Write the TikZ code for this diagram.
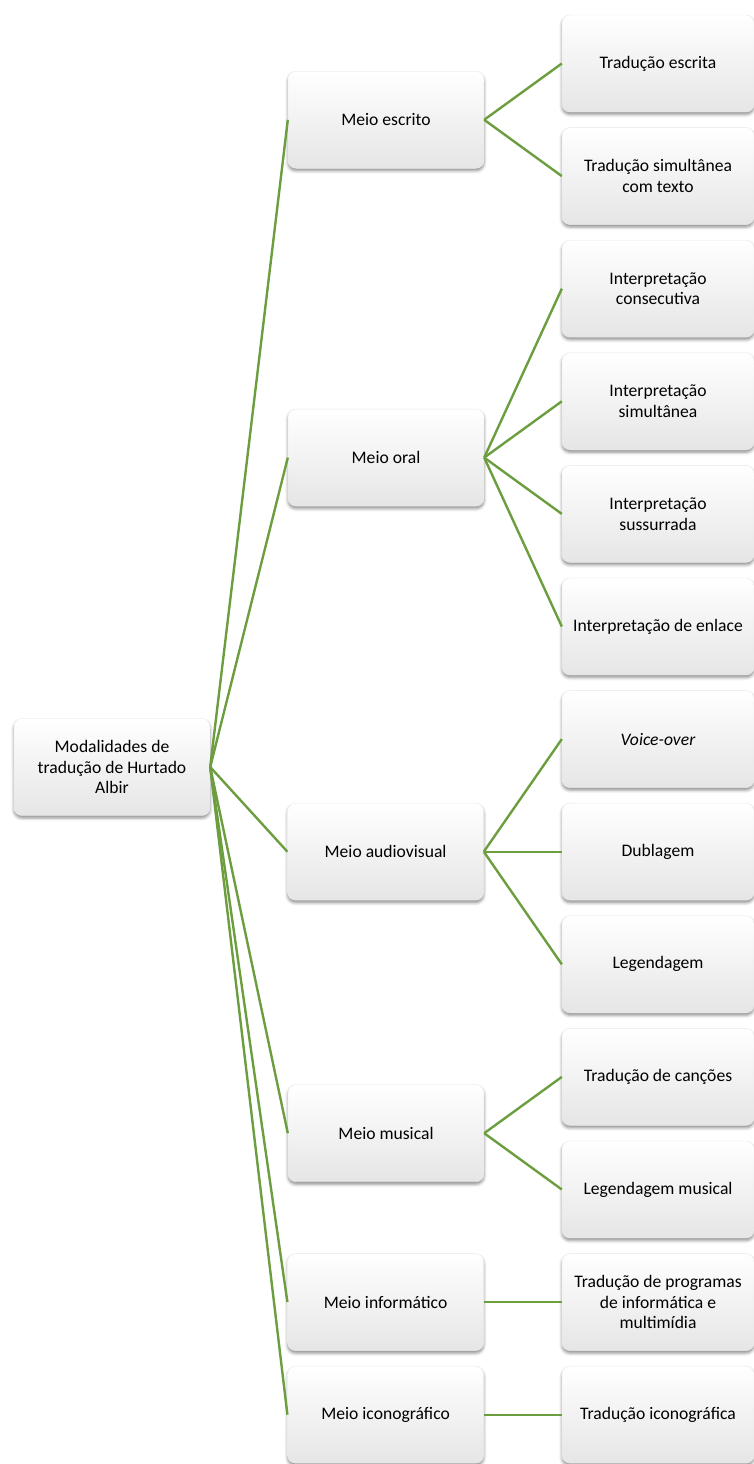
\documentclass[tikz,border=0pt]{standalone}
\usepackage{fontspec}
\setmainfont{Carlito}
\usetikzlibrary{positioning,shadows.blur}
\definecolor{linkgreen}{RGB}{108,158,64}

\begin{document}
\begin{tikzpicture}[x=1pt,y=-1pt,
  box/.style={rectangle, rounded corners=8pt, minimum width=196pt, minimum height=97pt,
    align=center, inner sep=2pt, top color=white, bottom color=black!10, draw=black!8,
    blur shadow={shadow xshift=0pt, shadow yshift=-2.5pt, shadow blur radius=3pt, shadow opacity=45}},
  leaf/.style={box, minimum width=192pt},
  link/.style={draw=linkgreen, line width=2.4pt}]
        \tikzstyle{every node}=[font=\fontsize{17.6}{20.7}\selectfont]
        \useasboundingbox (0,0) rectangle (754,1464);

          % root
          \node[box] (root) at (112,767) {Modalidades de\\tradução de Hurtado\\Albir};

          % third column, stacked top to bottom
          \node[leaf] (t1) at (658,63.5) {Tradução escrita};
          \node[leaf] (t2) [below=15.2pt of t1] {Tradução simultânea\\com texto};
          \node[leaf] (t3) [below=15.2pt of t2] {Interpretação\\consecutiva};
          \node[leaf] (t4) [below=15.2pt of t3] {Interpretação\\simultânea};
          \node[leaf] (t5) [below=15.2pt of t4] {Interpretação\\sussurrada};
          \node[leaf] (t6) [below=15.2pt of t5] {Interpretação de enlace};
          \node[leaf] (t7) [below=15.2pt of t6] {\itshape Voice-over};
          \node[leaf] (t8) [below=15.2pt of t7] {Dublagem};
          \node[leaf] (t9) [below=15.2pt of t8] {Legendagem};
          \node[leaf] (t10) [below=15.2pt of t9] {Tradução de canções};
          \node[leaf] (t11) [below=15.2pt of t10] {Legendagem musical};
          \node[leaf] (t12) [below=15.2pt of t11] {Tradução de programas\\de informática e\\multimídia};
          \node[leaf] (t13) [below=15.2pt of t12] {Tradução iconográfica};

          % middle column
          \node[box] (escrito) at (386,119.8) {Meio escrito};
          \node[box] (oral) at (386,457.6) {Meio oral};
          \node[box] (audio) [left=78pt of t8] {Meio audiovisual};
          \node[box] (musical) at (386,1133.2) {Meio musical};
          \node[box] (info) [left=78pt of t12] {Meio informático};
          \node[box] (icono) [left=78pt of t13] {Meio iconográfico};

          \path[link]
            (root.east) edge (escrito.west)
                        edge (oral.west)
                        edge (audio.west)
                        edge (musical.west)
                        edge (info.west)
                        edge (icono.west)
            (escrito.east) edge (t1.west)
                           edge (t2.west)
            (oral.east) edge (t3.west)
                        edge (t4.west)
                        edge (t5.west)
                        edge (t6.west)
            (audio.east) edge (t7.west)
                         edge (t8.west)
                         edge (t9.west)
            (musical.east) edge (t10.west)
                           edge (t11.west)
            (info.east) edge (t12.west)
            (icono.east) edge (t13.west);

        \end{tikzpicture}
\end{document}
